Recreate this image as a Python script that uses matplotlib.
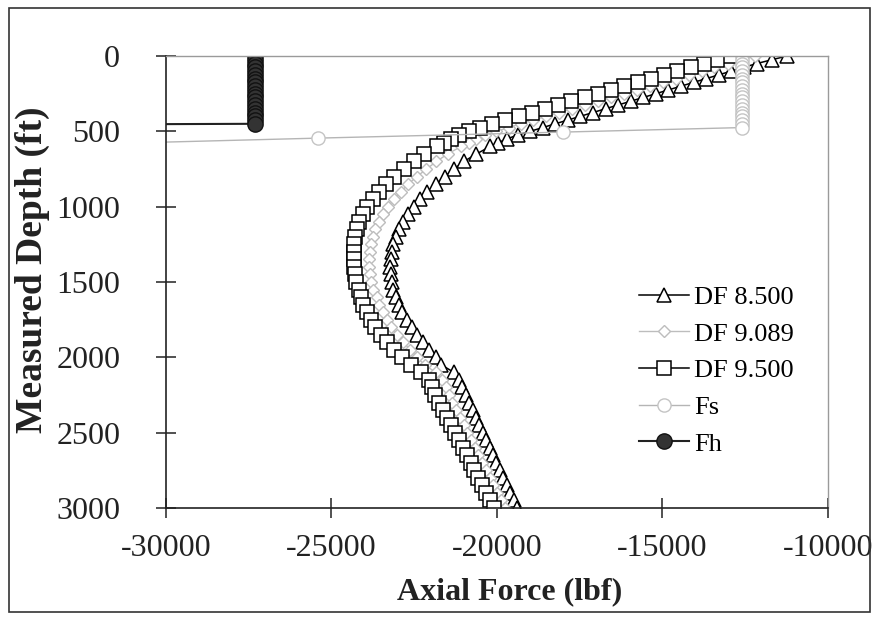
import matplotlib
matplotlib.use("Agg")
import matplotlib.pyplot as plt
from matplotlib.patches import Rectangle

# ---------------- data ----------------
depth_df = [0, 25, 50, 75, 100, 125, 150, 175, 200, 225, 250, 275, 300, 325, 350,
            375, 400, 425, 450, 475, 500, 525, 550, 575, 600,
            650, 700, 750, 800, 850, 900, 950, 1000, 1050, 1100, 1150, 1200, 1250,
            1300, 1350, 1400, 1450, 1500, 1550, 1600, 1650, 1700, 1750, 1800, 1850,
            1900, 1950, 2000, 2050, 2100, 2150, 2200, 2250, 2300, 2350, 2400, 2450,
            2500, 2550, 2600, 2650, 2700, 2750, 2800, 2850, 2900, 2950, 3000]

df_8500 = [-11240, -11700, -12150, -12540, -12920, -13300, -13680, -14060, -14440,
           -14820, -15200, -15580, -15960, -16340, -16720, -17100, -17480, -17860,
           -18240, -18620, -19000, -19380, -19700, -19960, -20200,
           -20620, -21000, -21300, -21580, -21850, -22100, -22320, -22520, -22690,
           -22840, -22960, -23060, -23130, -23180, -23210, -23220, -23210, -23180,
           -23130, -23060, -22970, -22860, -22730, -22580, -22410, -22230, -22040,
           -21850, -21680, -21300, -21150, -21050, -20940, -20840, -20740, -20640,
           -20530, -20430, -20330, -20220, -20120, -20020, -19910, -19810, -19710,
           -19610, -19500, -19400]

df_9089 = [-12200, -12610, -13030, -13430, -13820, -14210, -14600, -14990, -15380,
           -15770, -16160, -16550, -16940, -17340, -17730, -18120, -18510, -18900,
           -19290, -19650, -20020, -20350, -20640, -20860, -21080,
           -21490, -21830, -22130, -22420, -22680, -22900, -23110, -23290, -23440,
           -23570, -23680, -23760, -23820, -23850, -23870, -23870, -23850, -23810,
           -23750, -23640, -23560, -23450, -23330, -23190, -23020, -22830, -22620,
           -22410, -22190, -21850, -21650, -21550, -21460, -21350, -21240, -21120,
           -21010, -20900, -20790, -20670, -20560, -20450, -20330, -20220, -20110,
           -20000, -19890, -19770]

df_9500 = [-12950, -13350, -13750, -14150, -14550, -14950, -15350, -15750, -16150,
           -16550, -16950, -17350, -17750, -18150, -18550, -18950, -19350, -19750,
           -20150, -20500, -20850, -21150, -21400, -21600, -21800,
           -22200, -22500, -22800, -23100, -23350, -23550, -23750, -23920, -24060,
           -24170, -24240, -24290, -24320, -24330, -24330, -24320, -24290, -24250,
           -24180, -24120, -24040, -23940, -23820, -23680, -23510, -23320, -23100,
           -22860, -22600, -22300, -22050, -21950, -21880, -21760, -21640, -21520,
           -21400, -21280, -21160, -21040, -20920, -20800, -20680, -20560, -20440,
           -20320, -20200, -20080]

depth_fs = [0, 25, 50, 75, 100, 125, 150, 175, 200, 225, 250, 275, 300, 325, 350,
            375, 400, 425, 450, 475, 505, 545, 600]
fs = [-12600, -12600, -12600, -12600, -12600, -12600, -12600, -12600, -12600,
      -12600, -12600, -12600, -12600, -12600, -12600, -12600, -12600, -12600,
      -12600, -12600, -18000, -25400, -35000]

depth_fh = [0, 25, 50, 75, 100, 125, 150, 175, 200, 225, 250, 275, 300, 325, 350,
            375, 400, 425, 450, 460]
fh = [-27300, -27300, -27300, -27300, -27300, -27300, -27300, -27300, -27300,
      -27300, -27300, -27300, -27300, -27300, -27300, -27300, -27300, -27300,
      -27300, -40000]

x_ticks = [-30000, -25000, -20000, -15000, -10000]
y_ticks = [0, 500, 1000, 1500, 2000, 2500, 3000]

# ---------------- figure ----------------
plt.rcParams['font.family'] = ['Liberation Serif', 'DejaVu Serif']
plt.rcParams['axes.unicode_minus'] = False
fig = plt.figure(figsize=(8.79, 6.19), dpi=100)
ax = fig.add_axes([166 / 879, 1 - 508 / 619, (828 - 166) / 879, (508 - 56) / 619])

light = '#bdbdbd'
ax.plot(df_8500, depth_df, color='black', lw=1.1, marker='^', ms=10.5,
        mfc='white', mec='black', mew=1.1, label='DF 8.500')
ax.plot(df_9089, depth_df, color=light, lw=1.0, marker='D', ms=6.5,
        mfc='white', mec=light, mew=1.0, label='DF 9.089')
ax.plot(df_9500, depth_df, color='black', lw=1.1, marker='s', ms=9.5,
        mfc='white', mec='black', mew=1.1, label='DF 9.500')
ax.plot(fs, depth_fs, color='#b5b5b5', lw=1.0, marker='o', ms=9.5,
        mfc='white', mec='#c4c4c4', mew=1.0, label='Fs')
ax.plot(fh, depth_fh, color='#222222', lw=1.5, marker='o', ms=11,
        mfc='#333333', mec='#111111', mew=1.0, label='Fh')

ax.set_xlim(-30000, -10000)
ax.set_ylim(3000, 0)
ax.set_xticks(x_ticks)
ax.set_yticks(y_ticks)
ax.tick_params(axis='both', direction='inout', length=14, width=1.1,
               labelsize=23, colors='#222222')
ax.tick_params(axis='y', pad=26)
ax.tick_params(axis='x', pad=12)

for s in ['left', 'bottom']:
    ax.spines[s].set_color('#222222')
    ax.spines[s].set_linewidth(1.2)
for s in ['top', 'right']:
    ax.spines[s].set_color('#9a9a9a')
    ax.spines[s].set_linewidth(1.0)

ax.set_xlabel('Axial Force (lbf)', fontsize=23, fontweight='bold', color='#222222')
ax.set_ylabel('Measured Depth (ft)', fontsize=27, fontweight='bold', color='#222222')
ax.xaxis.set_label_coords((510 - 166) / (828 - 166), -(577 - 508) / (508 - 56))
ax.yaxis.set_label_coords(-(166 - 50) / (828 - 166), (508 - 270) / (508 - 56))

leg = ax.legend(loc='upper left', bbox_to_anchor=(628 / 879, 1 - 275 / 619),
                bbox_transform=fig.transFigure, frameon=False, fontsize=19,
                handlelength=1.9, handletextpad=0.2, labelspacing=0.5,
                borderaxespad=0)

fig.patches.append(Rectangle((9 / 879, 7 / 619), 861 / 879, 604 / 619,
                             transform=fig.transFigure, fill=False,
                             edgecolor='#333333', lw=1.2))

fig.savefig('out.png', dpi=100)
